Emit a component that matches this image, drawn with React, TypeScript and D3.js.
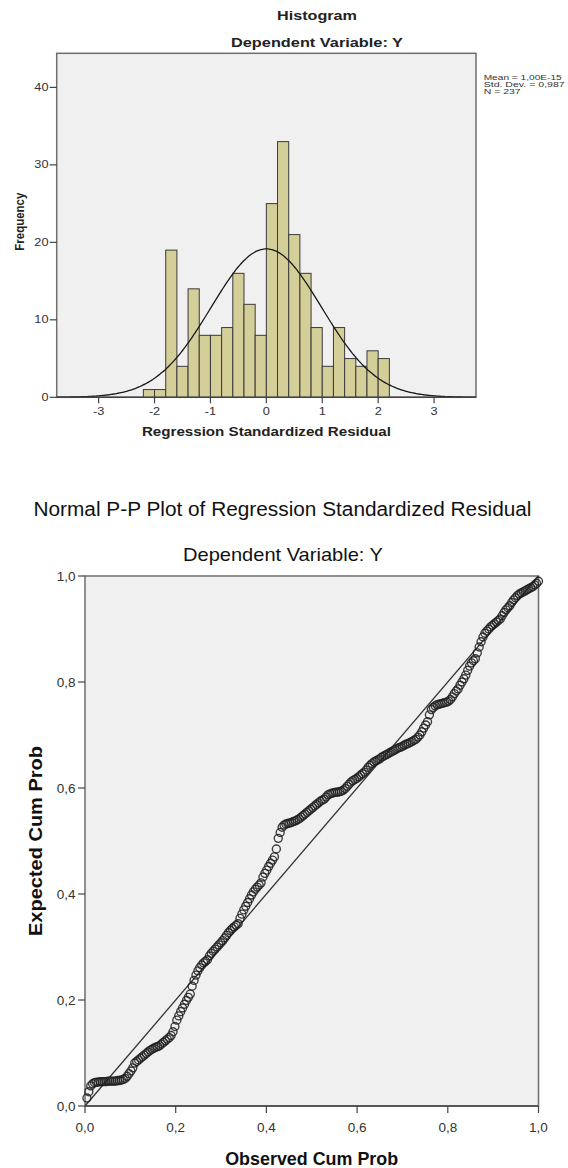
import React from "react";
import * as d3 from "d3";

// Histogram of regression standardized residuals (bin width 0.2)
const binLower = [-2.2, -2.0, -1.8, -1.6, -1.4, -1.2, -1.0, -0.8, -0.6, -0.4, -0.2, 0.0, 0.2, 0.4, 0.6, 0.8, 1.0, 1.2, 1.4, 1.6, 1.8, 2.0];
const binCounts = [1, 1, 19, 4, 14, 8, 8, 9, 16, 12, 8, 25, 33, 21, 16, 9, 4, 9, 5, 4, 6, 5];
const binWidth = 0.2;
const residMean = 1e-15;
const residSd = 0.987;
const residN = 237;
const histXTicks = [-3, -2, -1, 0, 1, 2, 3];
const histYTicks = [0, 10, 20, 30, 40];
const statLines = ["Mean = 1,00E-15", "Std. Dev. = 0,987", "N = 237"];
const statWidths = [78, 81, 37];

// Normal P-P plot: expected cum prob of each residual, in rank order
const expectedCumProb = [
  0.015,
  0.027,
  0.038, 0.042, 0.044, 0.045, 0.045, 0.046, 0.046, 0.046, 0.046, 0.047, 0.047, 0.047, 0.047, 0.047, 0.048, 0.048, 0.049, 0.050, 0.052,
  0.056, 0.061, 0.066, 0.072,
  0.081, 0.084, 0.087, 0.090, 0.093, 0.096, 0.099, 0.102, 0.105, 0.107, 0.109, 0.111, 0.112, 0.114,
  0.117, 0.120, 0.123, 0.126, 0.129, 0.133, 0.140, 0.150,
  0.162, 0.170, 0.178, 0.185, 0.192, 0.199, 0.205, 0.211,
  0.226, 0.237, 0.247, 0.255, 0.261, 0.266, 0.270, 0.273, 0.276,
  0.283, 0.288, 0.292, 0.296, 0.300, 0.304, 0.308, 0.312, 0.317, 0.322, 0.327, 0.331, 0.335, 0.338, 0.341, 0.344,
  0.354, 0.362, 0.370, 0.377, 0.384, 0.391, 0.398, 0.404, 0.409, 0.413, 0.417, 0.421,
  0.432, 0.439, 0.445, 0.452, 0.458, 0.464, 0.470, 0.485,
  0.505, 0.516, 0.526, 0.530, 0.532, 0.533, 0.534, 0.535, 0.537, 0.538, 0.540, 0.542, 0.545, 0.548, 0.551, 0.554, 0.557, 0.560, 0.563, 0.566, 0.569, 0.572, 0.575, 0.577, 0.579,
  0.583, 0.587, 0.589, 0.590, 0.591, 0.592, 0.592, 0.593, 0.594, 0.596, 0.599, 0.603, 0.607, 0.611, 0.614, 0.616, 0.618, 0.621, 0.624, 0.627, 0.630, 0.634, 0.639, 0.643, 0.646, 0.649, 0.651, 0.653, 0.655, 0.658, 0.660, 0.662, 0.664,
  0.666, 0.668, 0.670, 0.672, 0.674, 0.676, 0.677, 0.679, 0.681, 0.683, 0.684, 0.686, 0.688, 0.690, 0.692, 0.696, 0.700, 0.706, 0.713, 0.719, 0.725,
  0.738, 0.748, 0.752, 0.755, 0.757, 0.758, 0.759, 0.760, 0.761, 0.762, 0.764, 0.767, 0.772, 0.778, 0.783, 0.787,
  0.794, 0.800, 0.806, 0.813, 0.822, 0.830, 0.836, 0.840, 0.844,
  0.855, 0.866, 0.876, 0.885,
  0.892, 0.896, 0.900, 0.904, 0.907, 0.910, 0.913, 0.916, 0.919,
  0.925, 0.931, 0.936, 0.940, 0.944,
  0.950, 0.955, 0.959, 0.963,
  0.966, 0.968, 0.970, 0.972, 0.974, 0.976,
  0.978, 0.980, 0.983, 0.986, 0.990,
];
const ppTicks = [0, 0.2, 0.4, 0.6, 0.8, 1.0];

const FONT = "'Liberation Sans', Arial, sans-serif";
const FRAME = "#6e6e6e";
const AXIS = "#444";

const comma = (v: number) => d3.format(".1f")(v).replace(".", ",");

export default function App() {
  // histogram geometry
  const hx = d3.scaleLinear().domain([-3.75, 3.75]).range([56.7, 476]);
  const hy = d3.scaleLinear().domain([0, 44.4]).range([397.3, 53.3]);
  const stretch = 1.27; // histogram text is drawn wider than tall

  const pdfScale = residN * binWidth;
  const curvePts = d3.range(-3.75, 3.7501, 0.025).map((x) => [
    x,
    (pdfScale / (residSd * Math.sqrt(2 * Math.PI))) * Math.exp(-0.5 * ((x - residMean) / residSd) ** 2),
  ]);
  const curve = d3
    .line<number[]>()
    .x((d) => hx(d[0]))
    .y((d) => hy(d[1]))
    .curve(d3.curveBasis)(curvePts);

  // P-P geometry
  const px = d3.scaleLinear().domain([0, 1]).range([85, 538.5]);
  const py = d3.scaleLinear().domain([0, 1]).range([1106, 576]);
  const n = expectedCumProb.length;

  return (
    <div style={{ position: "absolute", left: 0, top: 0 }}>
      <svg width={568} height={1168} style={{ display: "block", background: "#fff" }} fontFamily={FONT}>
        {/* ---------- Histogram ---------- */}
        <text x={317} y={19.5} textAnchor="middle" fontSize={13} fontWeight="bold" fill="#222" textLength={80} lengthAdjust="spacingAndGlyphs">
          Histogram
        </text>
        <text x={317} y={47} textAnchor="middle" fontSize={13.5} fontWeight="bold" fill="#222" textLength={172} lengthAdjust="spacingAndGlyphs">
          Dependent Variable: Y
        </text>

        <rect x={hx(-3.75)} y={hy(44.4)} width={hx(3.75) - hx(-3.75)} height={hy(0) - hy(44.4)} fill="#f0f0f0" stroke={FRAME} strokeWidth={1.5} />

        {binLower.map((lo, i) => (
          <rect
            key={i}
            x={hx(lo)}
            y={hy(binCounts[i])}
            width={hx(lo + binWidth) - hx(lo)}
            height={hy(0) - hy(binCounts[i])}
            fill="#d4cf98"
            stroke="#3a3a3a"
            strokeWidth={1}
          />
        ))}

        <path d={curve || ""} fill="none" stroke="#1a1a1a" strokeWidth={1.3} />

        <line x1={hx(-3.75)} x2={hx(3.75)} y1={hy(0)} y2={hy(0)} stroke={AXIS} strokeWidth={1.5} />

        {histYTicks.map((t) => (
          <g key={t}>
            <line x1={hx(-3.75) - 7} x2={hx(-3.75)} y1={hy(t)} y2={hy(t)} stroke={AXIS} strokeWidth={1.2} />
            <g transform={`translate(48.5,${hy(t) + 3.6}) scale(${stretch},1)`}>
              <text textAnchor="end" fontSize={10} fill="#333">
                {t}
              </text>
            </g>
          </g>
        ))}

        {histXTicks.map((t) => (
          <g key={t}>
            <line x1={hx(t)} x2={hx(t)} y1={hy(0)} y2={hy(0) + 6} stroke={AXIS} strokeWidth={1.2} />
            <g transform={`translate(${hx(t)},414.5) scale(${stretch},1)`}>
              <text textAnchor="middle" fontSize={10} fill="#333">
                {t}
              </text>
            </g>
          </g>
        ))}

        <text x={266.4} y={436} textAnchor="middle" fontSize={12.5} fontWeight="bold" fill="#222" textLength={249} lengthAdjust="spacingAndGlyphs">
          Regression Standardized Residual
        </text>
        <text transform="translate(24,221.7) rotate(-90)" textAnchor="middle" fontSize={12} fontWeight="bold" fill="#222" textLength={58} lengthAdjust="spacingAndGlyphs">
          Frequency
        </text>

        {statLines.map((s, i) => (
          <text key={s} x={483.7} y={79.5 + i * 7.2} fontSize={7} fill="#333" textLength={statWidths[i]} lengthAdjust="spacingAndGlyphs">
            {s}
          </text>
        ))}

        {/* ---------- Normal P-P plot ---------- */}
        <text x={282.5} y={516} textAnchor="middle" fontSize={20} fill="#111" textLength={498} lengthAdjust="spacingAndGlyphs">
          Normal P-P Plot of Regression Standardized Residual
        </text>
        <text x={283} y={561} textAnchor="middle" fontSize={19} fill="#111" textLength={200} lengthAdjust="spacingAndGlyphs">
          Dependent Variable: Y
        </text>

        <rect x={px(0)} y={py(1)} width={px(1) - px(0)} height={py(0) - py(1)} fill="#f0f0f0" stroke={FRAME} strokeWidth={1.5} />

        <line x1={px(0)} y1={py(0)} x2={px(1)} y2={py(1)} stroke="#333" strokeWidth={1.3} />

        {expectedCumProb.map((q, i) => (
          <circle key={i} cx={px((i + 1) / n)} cy={py(q)} r={4} fill="none" stroke="#1e1e1e" strokeWidth={1.4} strokeOpacity={0.85} />
        ))}

        <line x1={px(0)} x2={px(1)} y1={py(0)} y2={py(0)} stroke={AXIS} strokeWidth={1.5} />

        {ppTicks.map((t) => (
          <g key={t}>
            <line x1={px(0) - 7} x2={px(0)} y1={py(t)} y2={py(t)} stroke={AXIS} strokeWidth={1.2} />
            <text x={75.5} y={py(t) + 4.8} textAnchor="end" fontSize={13.5} fill="#333">
              {comma(t)}
            </text>
            <line x1={px(t)} x2={px(t)} y1={py(0)} y2={py(0) + 7} stroke={AXIS} strokeWidth={1.2} />
            <text x={px(t)} y={1131.5} textAnchor="middle" fontSize={13.5} fill="#333">
              {comma(t)}
            </text>
          </g>
        ))}

        <text x={311.7} y={1164.5} textAnchor="middle" fontSize={18.5} fontWeight="bold" fill="#111" textLength={173} lengthAdjust="spacingAndGlyphs">
          Observed Cum Prob
        </text>
        <text transform="translate(42,841) rotate(-90)" textAnchor="middle" fontSize={18.5} fontWeight="bold" fill="#111" textLength={190} lengthAdjust="spacingAndGlyphs">
          Expected Cum Prob
        </text>
      </svg>
    </div>
  );
}
